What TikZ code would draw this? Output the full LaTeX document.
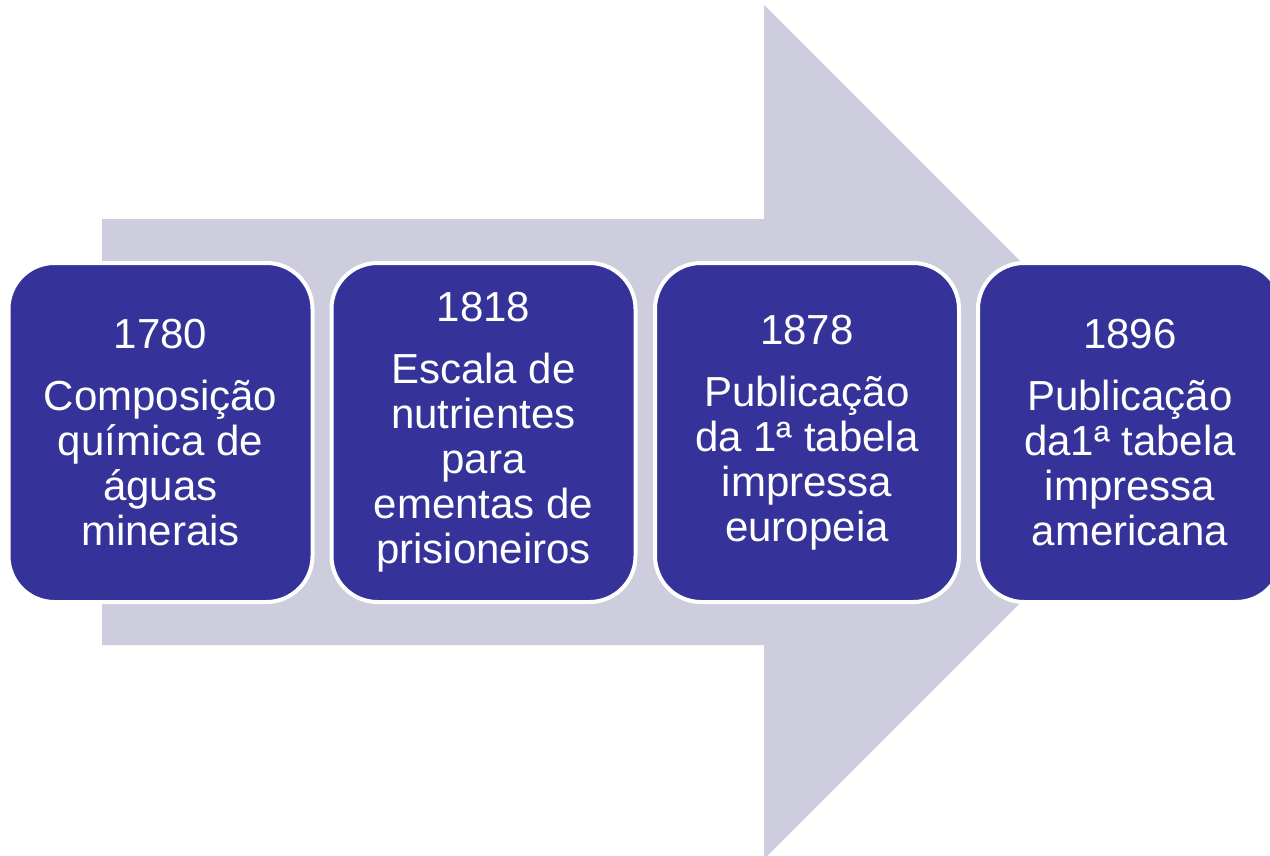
\documentclass[tikz,border=0pt]{standalone}
\usepackage{fontspec}
\setmainfont{Liberation Sans}
\definecolor{arrowgray}{RGB}{205,205,222}
\definecolor{boxblue}{RGB}{53,51,153}
\tikzset{
  stage/.style={rectangle, rounded corners=46pt, fill=boxblue, draw=white, line width=4pt,
    minimum width=304pt, minimum height=339pt, text=white, align=center, inner sep=0pt,
    font=\fontsize{42pt}{45pt}\selectfont},
  bigarrow/.style={fill=arrowgray, draw=none}
}
\begin{document}
\begin{tikzpicture}[x=1pt,y=-1pt]
\useasboundingbox (0,0) rectangle (1270,855);
\begin{scope}
\clip (0,0) rectangle (1270,855);
\fill[bigarrow] (102,219) -- (764,219) -- (764,5) -- (1191,432) -- (764,859) -- (764,645) -- (102,645) -- cycle;
\node[stage] (b1) at (160.5,432.5) {1780\\[17pt]Composição\\química de\\águas\\minerais};
\node[stage] (b2) at (483.5,432.5) {1818\\[17pt]Escala de\\nutrientes\\para\\ementas de\\prisioneiros};
\node[stage] (b3) at (807,432.5) {1878\\[17pt]Publicação\\da 1ª tabela\\impressa\\europeia};
\node[stage] (b4) at (1130,432.5) {1896\\[17pt]Publicação\\da1ª tabela\\impressa\\americana};
\end{scope}
\end{tikzpicture}
\end{document}
